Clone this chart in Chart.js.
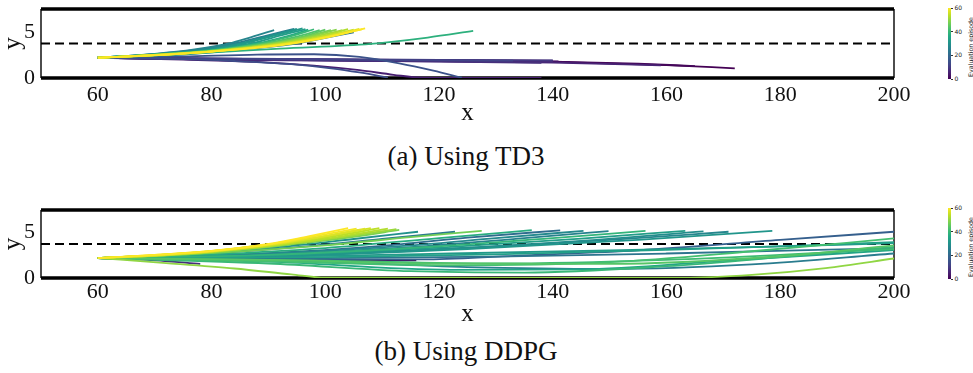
<!DOCTYPE html>
<html><head><meta charset="utf-8">
<script src="https://cdn.jsdelivr.net/npm/chart.js@4.4.0/dist/chart.umd.min.js"></script>
<style>
html,body{margin:0;padding:0;background:#fff;width:973px;height:373px;overflow:hidden;position:relative;font-family:'Liberation Serif',serif;}
.wrap{position:absolute;left:-6px;width:926px;height:130px;}
.cap{position:absolute;left:316px;width:300px;text-align:center;font-size:27px;line-height:30px;color:#111;white-space:nowrap;}
.cb{position:absolute;left:947.5px;width:3.5px;height:71px;}
.cbt{position:absolute;left:951px;width:2px;height:0.6px;background:#333;}
.cbl{position:absolute;left:954.5px;font-family:'DejaVu Sans',sans-serif;font-size:6px;line-height:6px;color:#222;}
.cbtitle{position:absolute;font-family:'DejaVu Sans',sans-serif;font-size:6.3px;line-height:7px;color:#222;white-space:nowrap;transform:translate(-50%,-50%) rotate(-90deg);}
</style>
</head><body>
<div class="wrap" style="top:0px"><canvas id="c1" width="926" height="130"></canvas></div>
<div class="wrap" style="top:200px"><canvas id="c2" width="926" height="130"></canvas></div>
<div class="cap" style="top:141px">(a) Using TD3</div>
<div class="cap" style="top:336px">(b) Using DDPG</div>
<div id="cbars"></div>
<script>
// ---------- data ----------
const xTicks = [60, 80, 100, 120, 140, 160, 180, 200];
const yTicks = [0, 5];
const xRange = [50, 200];
const roadEdges = [0, 7.5];
const laneDivider = 3.75;
const colorbarTicks = [0, 20, 40, 60];
const maxEpisode = 60;

// TD3: evaluation episode of each trajectory, and its (x, y) points
const td3Episodes = [0, 1, 2, 3, 4, 6, 7, 8, 10, 12, 5, 14, 15, 22, 25, 27, 30, 32, 33, 36, 38, 40, 43, 45, 47, 49, 51, 53, 55, 57, 59, 60];
const td3Paths = [
  [60,2.2, 80,2.08, 100,1.98, 120,1.88, 140,1.75, 160,1.4, 172,1.05],
  [60,2.2, 80,2.06, 100,1.96, 120,1.86, 140,1.78, 155,1.55, 165,1.3],
  [60,2.2, 80,2.05, 100,1.95, 120,1.85, 143,1.72],
  [60,2.2, 80,2.07, 100,1.99, 120,1.9, 141,1.8],
  [60,2.2, 80,2.1, 100,2.02, 120,1.95, 140,1.88],
  [60,2.2, 80,2.0, 100,1.9, 120,1.8, 140,1.68, 159,1.38],
  [60,2.2, 80,2.03, 100,1.93, 120,1.83, 140,1.74],
  [60,2.2, 80,2.05, 100,1.92, 120,1.78, 138,1.65],
  [60,2.2, 80,2.12, 100,2.05, 120,1.98, 140,1.92],
  [60,2.2, 80,2.1, 100,2.0, 120,1.92, 133,1.88],
  [60,2.2, 75,2.0, 88,1.75, 98,1.35, 106,0.85, 112,0.35, 117,0.03, 127,0, 138,0],
  [60,2.2, 72,2.1, 84,1.85, 94,1.5, 101,1.05, 106,0.6, 111,0.05],
  [60,2.2, 75,2.35, 88,2.55, 98,2.58, 106,2.3, 113,1.6, 119,0.8, 124,0.03],
  [60,2.2, 70,2.4, 80,2.8, 88,3.25, 95,3.75, 100,4.35, 105,4.97],
  [60,2.2, 70,2.6, 78,3.1, 84,3.75, 89,4.5, 94.5,5.35],
  [60,2.2, 70,2.62, 77,3.1, 83,3.75, 87,4.45, 91,5.2],
  [60,2.2, 70,2.58, 79,3.08, 85,3.75, 90,4.55, 95,5.35],
  [60,2.2, 70,2.57, 80,3.08, 86,3.78, 91,4.6, 96,5.4],
  [60,2.2, 70,2.55, 80,3.05, 87,3.75, 92,4.6, 96.5,5.3],
  [60,2.2, 70,2.55, 80,3.02, 88,3.75, 93,4.5, 97,5.25],
  [60,2.2, 75,2.6, 92,3.2, 108,3.72, 118,4.4, 126,5.12],
  [60,2.2, 70,2.54, 80,3.0, 88,3.7, 94,4.55, 98,5.3],
  [60,2.2, 70,2.53, 80,2.98, 89,3.72, 95,4.5, 99,5.2],
  [60,2.2, 70,2.52, 80,2.96, 89,3.65, 96,4.5, 100,5.25],
  [60,2.2, 70,2.52, 80,2.94, 90,3.7, 97,4.55, 101,5.2],
  [60,2.2, 70,2.51, 80,2.93, 90,3.65, 97,4.45, 102,5.25],
  [60,2.2, 70,2.5, 80,2.92, 91,3.7, 98,4.5, 103,5.2],
  [60,2.2, 70,2.5, 80,2.9, 91,3.62, 99,4.5, 104,5.3],
  [60,2.2, 70,2.49, 80,2.9, 92,3.68, 100,4.55, 105,5.25],
  [60,2.2, 70,2.48, 80,2.88, 92,3.62, 100,4.45, 106,5.35],
  [60,2.2, 70,2.48, 80,2.88, 93,3.68, 101,4.55, 106.5,5.3],
  [60,2.2, 70,2.47, 80,2.87, 93,3.62, 101,4.5, 107,5.4]
];

// DDPG
const ddpgEpisodes = [8, 2, 18, 21, 23, 24, 25, 26, 27, 28, 29, 30, 31, 33, 32, 34, 35, 37, 39, 40, 41, 42, 44, 45, 47, 48, 50, 51, 53, 54, 56, 57, 59, 60];
const ddpgPaths = [
  [60,2.2, 70,1.95, 78,1.55],
  [60,2.2, 90,2.05, 105,1.98, 116,1.95],
  [60,2.2, 100,2.05, 118,2.05, 135,2.5, 155,3.05, 180,4.2, 200,5.1],
  [60,2.2, 90,2.75, 110,3.55, 125,4.45, 141.3,5.25],
  [60,2.2, 100,2.2, 130,2.35, 160,2.7, 200,3.3],
  [60,2.2, 80,2.7, 95,3.4, 110,4.3, 122.8,5.1],
  [60,2.2, 95,1.9, 125,1.2, 150,1.0, 175,1.5, 200,2.7],
  [60,2.2, 90,2.6, 115,3.4, 135,4.4, 149.8,5.17],
  [60,2.2, 90,2.4, 125,3.3, 150,4.2, 170.9,5.1],
  [60,2.2, 90,2.7, 115,3.6, 130,4.4, 145.4,5.2],
  [60,2.2, 90,2.45, 120,3.2, 145,4.1, 166.5,5.15],
  [60,2.2, 75,2.6, 90,3.3, 105,4.3, 116.3,5.1],
  [60,2.2, 90,2.4, 125,3.2, 155,4.2, 178.6,5.2],
  [60,2.2, 90,2.5, 120,3.35, 145,4.35, 163.3,5.2],
  [60,2.2, 100,2.45, 122,2.7, 150,3.05, 175,3.4, 200,3.84],
  [60,2.2, 100,2.3, 130,2.6, 160,3.1, 185,3.6, 200,3.95],
  [60,2.2, 90,1.8, 122,0.9, 145,0.95, 170,1.9, 200,3.07],
  [60,2.2, 80,2.6, 100,3.3, 120,4.4, 136.3,5.28],
  [60,2.2, 90,2.55, 120,3.5, 140,4.4, 156.3,5.2],
  [60,2.2, 90,1.6, 115,0.75, 135,0.6, 160,1.3, 180,2.3, 200,3.43],
  [60,2.2, 100,1.9, 130,1.6, 160,2.0, 200,3.2],
  [60,2.2, 90,1.85, 122,1.4, 150,1.75, 175,2.95, 200,4.36],
  [60,2.2, 90,2.0, 120,1.6, 150,1.55, 180,2.4, 200,3.6],
  [60,2.2, 70,2.5, 80,2.95, 90,3.7, 100,4.6, 106,5.3],
  [60,2.2, 80,2.75, 100,3.6, 115,4.5, 127.5,5.2],
  [60,2.2, 70,2.42, 80,2.8, 94,3.7, 105,4.55, 113,5.3],
  [60,2.2, 72,1.65, 84,1.05, 94,0.4, 100,0.03, 130,0, 163,0.02, 175,0.35, 188,1.1, 200,2.15],
  [60,2.2, 70,2.45, 80,2.85, 93,3.7, 104,4.6, 112.5,5.4],
  [60,2.2, 70,2.45, 80,2.88, 93,3.75, 103,4.6, 111,5.45],
  [60,2.2, 70,2.48, 80,2.9, 92,3.7, 102,4.65, 109.5,5.5],
  [60,2.2, 70,2.5, 80,2.95, 92,3.8, 101,4.7, 108,5.5],
  [60,2.2, 70,2.5, 80,2.95, 91,3.75, 100,4.65, 107,5.45],
  [60,2.2, 70,2.55, 80,3.0, 91,3.8, 99,4.7, 105.5,5.45],
  [60,2.2, 70,2.55, 80,3.0, 90,3.75, 97,4.6, 104,5.5]
];

// ---------- style ----------
const VIRIDIS = ['#440154','#482475','#414487','#355f8d','#2a788e','#21918c','#22a884','#44bf70','#7ad151','#bddf26','#fde725'];
function hex2rgb(h){return [parseInt(h.slice(1,3),16),parseInt(h.slice(3,5),16),parseInt(h.slice(5,7),16)];}
function viridis(t){
  t=Math.max(0,Math.min(1,t));
  const f=t*(VIRIDIS.length-1), i=Math.min(Math.floor(f),VIRIDIS.length-2), u=f-i;
  const a=hex2rgb(VIRIDIS[i]), b=hex2rgb(VIRIDIS[i+1]);
  return 'rgb('+a.map((v,k)=>Math.round(v+(b[k]-v)*u)).join(',')+')';
}
const SERIF = "'Liberation Serif', 'Times New Roman', serif";
function noPad(s){s.paddingLeft=0;s.paddingRight=0;s.paddingTop=0;s.paddingBottom=0;}

function buildChart(id, episodes, paths, cfg){
  const ds = [];
  const edgeStyle = {borderColor:'#000', pointRadius:0, tension:0, clip:false, fill:false};
  roadEdges.forEach(v => ds.push(Object.assign({data:[{x:xRange[0],y:v},{x:xRange[1],y:v}], borderWidth:3.4, order:400}, edgeStyle)));
  xRange.forEach(v => ds.push(Object.assign({data:[{x:v,y:roadEdges[0]},{x:v,y:roadEdges[1]}], borderWidth:1.4, order:400}, edgeStyle)));
  ds.push({data:[{x:xRange[0],y:laneDivider},{x:xRange[1],y:laneDivider}], borderColor:'#000', borderWidth:1.9, borderDash:[9,5], pointRadius:0, tension:0, order:300, fill:false});
  paths.forEach((p,i) => {
    const pts=[];
    for(let k=0;k<p.length;k+=2) pts.push({x:p[k], y:p[k+1]});
    ds.push({data:pts, borderColor:viridis(episodes[i]/maxEpisode), borderWidth:1.8, pointRadius:0,
             cubicInterpolationMode:'monotone', fill:false, order:maxEpisode+1-episodes[i]});
  });
  new Chart(document.getElementById(id), {
    type:'line',
    data:{datasets:ds},
    options:{
      responsive:false, animation:false, devicePixelRatio:1,
      layout:{padding:{left:0,right:26,top:cfg.top,bottom:0}},
      plugins:{legend:{display:false}, tooltip:{enabled:false}},
      scales:{
        x:{type:'linear', min:xRange[0], max:xRange[1],
           afterFit(s){s.height=52; noPad(s);},
           afterBuildTicks(s){s.ticks=xTicks.map(v=>({value:v}));},
           grid:{display:false, drawTicks:false}, border:{display:false},
           ticks:{padding:cfg.tickPad, color:'#111', maxRotation:0, autoSkip:false, font:{family:SERIF, size:22}},
           title:{display:true, text:'x', color:'#111', font:{family:SERIF, size:25}, padding:{top:0,bottom:cfg.titlePad}}},
        y:{type:'linear', min:roadEdges[0], max:roadEdges[1],
           afterFit(s){s.width=47; noPad(s);},
           afterBuildTicks(s){s.ticks=yTicks.map(v=>({value:v}));},
           grid:{display:false, drawTicks:false}, border:{display:false},
           ticks:{padding:6, color:'#111', font:{family:SERIF, size:22}},
           title:{display:true, text:'y', color:'#111', font:{family:SERIF, size:25}, padding:{top:4,bottom:0}}}
      }
    }
  });
}
buildChart('c1', td3Episodes, td3Paths, {top:9, tickPad:4, titlePad:2});
buildChart('c2', ddpgEpisodes, ddpgPaths, {top:10, tickPad:1, titlePad:1});

// colorbars
(function(){
  const host=document.getElementById('cbars');
  const grad='linear-gradient(to top,'+VIRIDIS.map((c,i)=>c+' '+(i*10)+'%').join(',')+')';
  [8, 208].forEach(top=>{
    const h=71;
    let html='<div class="cb" style="top:'+top+'px;background:'+grad+'"></div>';
    colorbarTicks.forEach(v=>{
      const y=top+h-(v/maxEpisode)*h;
      html+='<div class="cbt" style="top:'+(y-0.3)+'px"></div>';
      html+='<div class="cbl" style="top:'+(y-3)+'px">'+v+'</div>';
    });
    html+='<div class="cbtitle" style="left:970px;top:'+(top+39)+'px">Evaluation episode</div>';
    host.insertAdjacentHTML('beforeend',html);
  });
})();
</script>
</body></html>
